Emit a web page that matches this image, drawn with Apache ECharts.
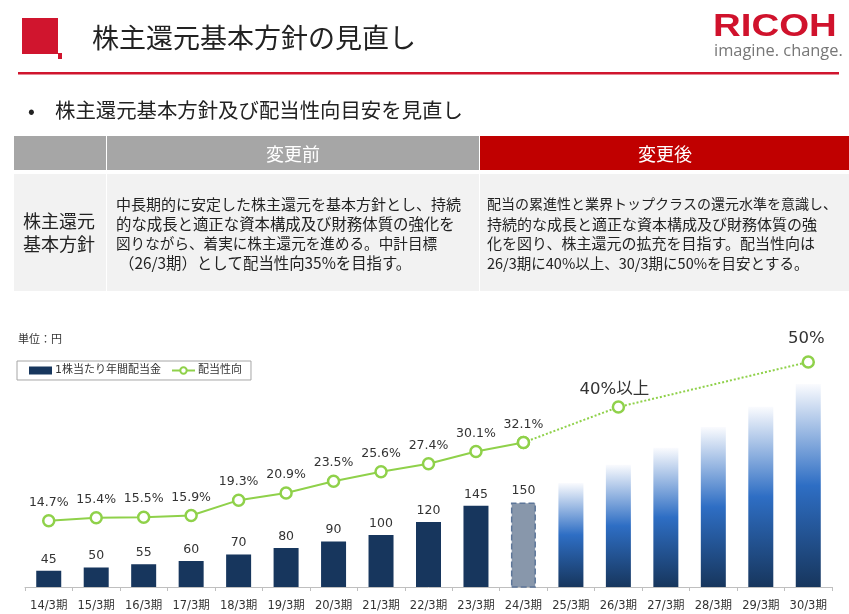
<!DOCTYPE html>
<html lang="ja">
<head>
    <meta charset="UTF-8">
    <title>株主還元基本方針の見直し</title>
    <script src="https://cdn.jsdelivr.net/npm/echarts@6/dist/echarts.min.js"></script>
    <style>
        html, body { margin: 0; padding: 0; background: #fff; }
        #chart { width: 849px; height: 614px; }
    </style>
</head>
<body>
<div id="chart"></div>
<script>
    var categories = ['14/3期', '15/3期', '16/3期', '17/3期', '18/3期', '19/3期', '20/3期', '21/3期', '22/3期',
        '23/3期', '24/3期', '25/3期', '26/3期', '27/3期', '28/3期', '29/3期', '30/3期'];
    // 配当金 (25/3期以降は数値の記載なし、棒の高さから読み取り)
    var dividend = [45, 50, 55, 60, 70, 80, 90, 100, 120, 145, 150, 180, 208, 234, 266, 297, 332];
    var lastLabelled = 10;
    // 配当性向 実績
    var payoutActual = [14.7, 15.4, 15.5, 15.9, 19.3, 20.9, 23.5, 25.6, 27.4, 30.1, 32.1];
    // 配当性向 目安
    var payoutPlan = [null, null, null, null, null, null, null, null, null, null, 32.1, null, 40, null, null, null, 50];
    var planLabels = {12: '40%以上', 16: '50%'};

    var titleText = '株主還元基本方針の見直し';
    var bulletText = '株主還元基本方針及び配当性向目安を見直し';
    var headBefore = '変更前';
    var headAfter = '変更後';
    var rowHead = '株主還元\n基本方針';
    var textBefore = ['中長期的に安定した株主還元を基本方針とし、持続', '的な成長と適正な資本構成及び財務体質の強化を',
        '図りながら、着実に株主還元を進める。中計目標', '（26/3期）として配当性向35%を目指す。'];
    var textAfter = ['配当の累進性と業界トップクラスの還元水準を意識し、', '持続的な成長と適正な資本構成及び財務体質の強',
        '化を図り、株主還元の拡充を目指す。配当性向は', '26/3期に40%以上、30/3期に50%を目安とする。'];

    var FONT = "'DejaVu Sans','Noto Sans CJK JP',sans-serif";
    var JP = "'Noto Sans CJK JP',sans-serif";
    var GREEN = '#8fd14a';
    var NAVY = '#17365d';
    // 元資料のフォントはかなが詰まっているので行ごとに幅を合わせる
    var beforeSizes = [15, 15.4, 14.6, 15.4];
    var afterSizes = [14, 15, 15, 14.5];

    function rect(x, y, w, h, color) {
        return {type: 'rect', shape: {x: x, y: y, width: w, height: h}, style: {fill: color}, silent: true};
    }
    function text(x, y, str, size, color, opt) {
        opt = opt || {};
        return {
            type: 'text', x: x, y: y, silent: true, scaleX: opt.scaleX || 1,
            style: {
                text: str, fontSize: size, fill: color, fontFamily: opt.font || JP,
                fontWeight: opt.weight || 'normal', align: opt.align || 'left', verticalAlign: 'middle',
                lineHeight: opt.lineHeight
            }
        };
    }

    // ヘッダーと表
    var elements = [
        rect(22, 18, 36, 36, '#d0152e'),
        rect(58, 53, 4, 6, '#d0152e'),
        text(92, 38, titleText, 27, '#222'),
        rect(18, 72, 821, 2.5, '#d0152e'),
        text(713, 27, 'RICOH', 32, '#d0122c', {font: "'Liberation Sans',sans-serif", weight: 'bold', scaleX: 1.2}),
        text(714, 51, 'imagine. change.', 16.4, '#777', {font: "'Open Sans',sans-serif"}),
        text(28, 110, '•', 20, '#222'),
        text(55, 110, bulletText, 20.4, '#222'),
        rect(14, 136, 92, 34, '#a6a6a6'),
        rect(107, 136, 372, 34, '#a6a6a6'),
        rect(480, 136, 369, 34, '#c00000'),
        rect(14, 174, 92, 117, '#f2f2f2'),
        rect(107, 174, 372, 117, '#f2f2f2'),
        rect(480, 174, 369, 117, '#f2f2f2'),
        text(293, 154, headBefore, 18, '#fff', {align: 'center'}),
        text(665, 154, headAfter, 18, '#fff', {align: 'center'}),
        text(59, 233, rowHead, 18, '#222', {align: 'center', lineHeight: 23}),
        text(18, 339, '単位：円', 11, '#333')
    ];
    textBefore.forEach(function (line, i) {
        elements.push(text(i === 3 ? 119 : 116, 204 + i * 19.8, line, beforeSizes[i], '#222'));
    });
    textAfter.forEach(function (line, i) {
        elements.push(text(487, 204 + i * 19.8, line, afterSizes[i], '#222'));
    });

    // 棒グラフのデータ
    var barData = dividend.map(function (v, i) {
        var item = {value: v};
        if (i === lastLabelled) {
            item.itemStyle = {color: '#8897ab', borderColor: '#5d7699', borderWidth: 1.5, borderType: 'dashed'};
        } else if (i > lastLabelled) {
            item.itemStyle = {
                color: new echarts.graphic.LinearGradient(0, 0, 0, 1, [
                    {offset: 0, color: '#fafbfe'},
                    {offset: 0.5, color: '#2e6ec4'},
                    {offset: 1, color: '#17365d'}
                ])
            };
            item.label = {show: false};
        }
        return item;
    });

    // 目安のラベル位置の微調整
    var planData = payoutPlan.map(function (v, i) {
        if (i === 12) return {value: v, label: {offset: [-4, 4]}};
        if (i === 16) return {value: v, label: {offset: [-2, -2]}};
        return v;
    });

    var myChart = echarts.init(document.getElementById('chart'));
    myChart.setOption({
        animation: false,
        textStyle: {fontFamily: FONT},
        graphic: {elements: elements},
        legend: {
            left: 17, top: 361, orient: 'horizontal', padding: [4, 9, 4, 12],
            borderColor: '#a6a6a6', borderWidth: 1, itemWidth: 23, itemHeight: 8, itemGap: 10,
            data: [{name: '1株当たり年間配当金', icon: 'rect'}, {name: '配当性向'}],
            textStyle: {fontSize: 11, color: '#333', fontFamily: FONT, padding: [0, 0, 0, -2]}
        },
        grid: {left: 25, right: 17, top: 362, bottom: 27},
        xAxis: {
            type: 'category',
            data: categories,
            axisLine: {lineStyle: {color: '#bfbfbf'}},
            axisTick: {show: true, length: 4, alignWithLabel: false, lineStyle: {color: '#bfbfbf'}},
            axisLabel: {interval: 0, fontSize: 11.5, color: '#333', margin: 13, fontFamily: FONT}
        },
        yAxis: [
            {type: 'value', min: 20, max: 366, show: false, splitLine: {show: false}},
            {type: 'value', min: 0, max: 50, show: false, splitLine: {show: false}}
        ],
        series: [
            {
                name: '1株当たり年間配当金',
                type: 'bar',
                barWidth: 25,
                itemStyle: {color: NAVY},
                label: {show: true, position: 'top', distance: 5, fontSize: 12.5, color: '#333'},
                data: barData
            },
            {
                name: '配当性向(目安)',
                type: 'line',
                yAxisIndex: 1,
                connectNulls: true,
                symbol: 'circle',
                symbolSize: 11,
                lineStyle: {color: GREEN, width: 2, type: 'dotted'},
                itemStyle: {color: '#fff', borderColor: GREEN, borderWidth: 2.5},
                label: {
                    show: true, position: 'top', distance: 6, fontSize: 16.5, color: '#333',
                    formatter: function (p) { return planLabels[p.dataIndex] || ''; }
                },
                data: planData
            },
            {
                name: '配当性向',
                type: 'line',
                yAxisIndex: 1,
                symbol: 'circle',
                symbolSize: 11,
                lineStyle: {color: GREEN, width: 2},
                itemStyle: {color: '#fff', borderColor: GREEN, borderWidth: 2.5},
                label: {
                    show: true, position: 'top', distance: 5, fontSize: 12.5, color: '#333',
                    formatter: function (p) { return p.value.toFixed(1) + '%'; }
                },
                data: payoutActual
            }
        ]
    });
</script>
</body>
</html>
